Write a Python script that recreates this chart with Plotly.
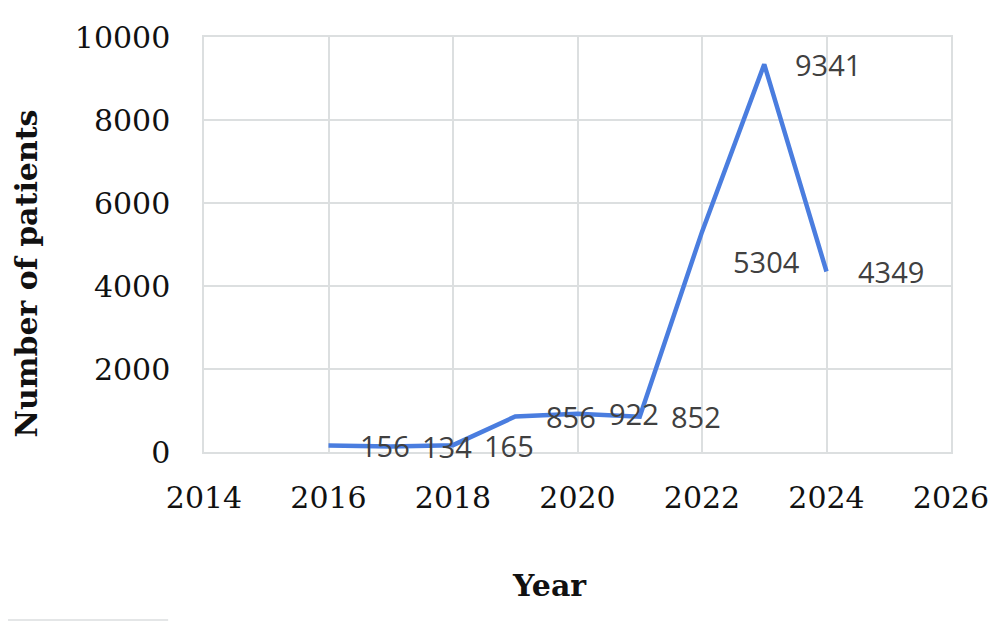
import plotly.graph_objects as go

years = [2016, 2017, 2018, 2019, 2020, 2021, 2022, 2023, 2024]
patients = [156, 134, 165, 856, 922, 852, 5304, 9341, 4349]
label_yshift = [0, 0, 0, 0, 0, 0, -30, 0, 0]
x_ticks = [2014, 2016, 2018, 2020, 2022, 2024, 2026]
y_ticks = [0, 2000, 4000, 6000, 8000, 10000]

fig = go.Figure()
fig.add_trace(go.Scatter(
    x=years, y=patients, mode="lines",
    line=dict(color="#4a7ddf", width=4.5),
    hoverinfo="x+y", showlegend=False,
))

for x, y, ys in zip(years, patients, label_yshift):
    fig.add_annotation(
        x=x, y=y, text=str(y), showarrow=False,
        xanchor="left", yanchor="middle", xshift=29, yshift=ys,
        font=dict(family="Open Sans", size=29, color="#404040"),
    )

grid = "#dcdfe0"
fig.update_layout(
    width=992, height=615,
    margin=dict(l=196, r=49, t=29, b=171),
    plot_bgcolor="white", paper_bgcolor="white",
    xaxis=dict(
        range=[2014, 2026], tickvals=x_ticks, ticktext=[str(t) for t in x_ticks],
        showgrid=True, gridcolor=grid, gridwidth=1.5,
        showline=True, linecolor=grid, linewidth=1.5, mirror=True,
        zeroline=False, ticks="", ticklabelstandoff=18,
        tickfont=dict(family="DejaVu Serif", size=30, color="#111111"),
    ),
    yaxis=dict(
        range=[0, 10000], tickvals=y_ticks, ticktext=[str(t) for t in y_ticks],
        showgrid=True, gridcolor=grid, gridwidth=1.5,
        showline=True, linecolor=grid, linewidth=1.5, mirror=True,
        zeroline=False, ticks="", ticklabelstandoff=26,
        tickfont=dict(family="DejaVu Serif", size=30, color="#111111"),
    ),
)

fig.add_annotation(
    xref="paper", yref="paper", x=-0.237, y=0.43, text="<b>Number of patients</b>",
    textangle=-90, showarrow=False, xanchor="center", yanchor="middle",
    font=dict(family="DejaVu Serif", size=30, color="#111111"),
)
fig.add_annotation(
    xref="paper", yref="paper", x=0.462, y=-0.322, text="<b>Year</b>",
    showarrow=False, xanchor="center", yanchor="middle",
    font=dict(family="DejaVu Serif", size=30, color="#111111"),
)
fig.add_shape(
    type="line", xref="paper", yref="paper",
    x0=-0.273, x1=-0.048, y0=-0.405, y1=-0.405,
    line=dict(color="#e4e6e7", width=2),
)

fig.write_html("out.html")
